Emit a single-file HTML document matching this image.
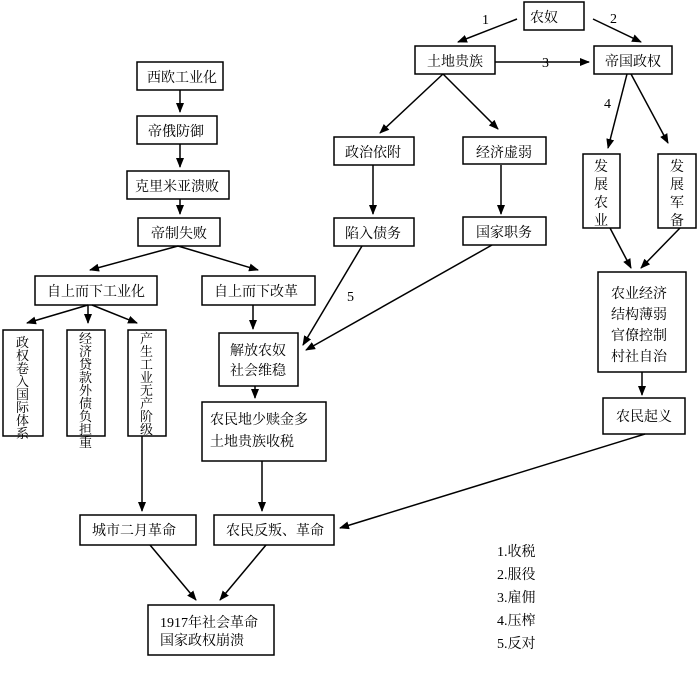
<!DOCTYPE html>
<html><head><meta charset="utf-8"><style>
body{margin:0;background:#fff}
svg text{font-family:"Liberation Serif","Noto Serif CJK SC","Noto Sans CJK SC",serif;font-size:14px;fill:#000}
svg text.v{font-size:13px}
</style></head><body>
<svg width="700" height="671" viewBox="0 0 700 671" xmlns="http://www.w3.org/2000/svg">
<defs><marker id="a" markerWidth="10" markerHeight="8" refX="9" refY="4" orient="auto" markerUnits="userSpaceOnUse"><path d="M0,0 L10,4 L0,8 Z" fill="#000"/></marker></defs>
<g fill="none" stroke="#000" stroke-width="1.5">
<rect x="524" y="2" width="60" height="28"/>
<rect x="415" y="46" width="80" height="28"/>
<rect x="594" y="46" width="78" height="28"/>
<rect x="334" y="137" width="80" height="28"/>
<rect x="463" y="137" width="83" height="27"/>
<rect x="334" y="218" width="80" height="28"/>
<rect x="463" y="217" width="83" height="28"/>
<rect x="583" y="154" width="37" height="74"/>
<rect x="658" y="154" width="38" height="74"/>
<rect x="598" y="272" width="88" height="100"/>
<rect x="603" y="398" width="82" height="36"/>
<rect x="137" y="62" width="86" height="28"/>
<rect x="137" y="116" width="80" height="28"/>
<rect x="127" y="171" width="102" height="28"/>
<rect x="138" y="218" width="82" height="28"/>
<rect x="35" y="276" width="122" height="29"/>
<rect x="202" y="276" width="113" height="29"/>
<rect x="3" y="330" width="40" height="106"/>
<rect x="67" y="330" width="38" height="106"/>
<rect x="128" y="330" width="38" height="106"/>
<rect x="219" y="333" width="79" height="53"/>
<rect x="202" y="402" width="124" height="59"/>
<rect x="80" y="515" width="116" height="30"/>
<rect x="214" y="515" width="120" height="30"/>
<rect x="148" y="605" width="126" height="50"/>
</g>
<g stroke="#000" stroke-width="1.5" marker-end="url(#a)">
<line x1="517" y1="19" x2="458" y2="42"/>
<line x1="593" y1="19" x2="641" y2="42"/>
<line x1="495" y1="62" x2="589" y2="62"/>
<line x1="443" y1="74" x2="380" y2="133"/>
<line x1="443" y1="74" x2="498" y2="129"/>
<line x1="627" y1="74" x2="608" y2="148"/>
<line x1="631" y1="74" x2="668" y2="143"/>
<line x1="501" y1="165" x2="501" y2="214"/>
<line x1="373" y1="165" x2="373" y2="214"/>
<line x1="610" y1="228" x2="631" y2="268"/>
<line x1="680" y1="228" x2="641" y2="268"/>
<line x1="642" y1="372" x2="642" y2="395"/>
<line x1="180" y1="90" x2="180" y2="112"/>
<line x1="180" y1="144" x2="180" y2="167"/>
<line x1="180" y1="199" x2="180" y2="214"/>
<line x1="178" y1="246" x2="90" y2="270"/>
<line x1="178" y1="246" x2="258" y2="270"/>
<line x1="88" y1="305" x2="27" y2="323"/>
<line x1="88" y1="305" x2="88" y2="323"/>
<line x1="92" y1="305" x2="137" y2="323"/>
<line x1="253" y1="305" x2="253" y2="329"/>
<line x1="362" y1="246" x2="303" y2="345"/>
<line x1="492" y1="245" x2="306" y2="350"/>
<line x1="255" y1="386" x2="255" y2="398"/>
<line x1="262" y1="461" x2="262" y2="511"/>
<line x1="142" y1="436" x2="142" y2="511"/>
<line x1="645" y1="434" x2="340" y2="528"/>
<line x1="150" y1="545" x2="196" y2="600"/>
<line x1="266" y1="545" x2="220" y2="600"/>
</g>
<text x="530" y="22">农奴</text>
<text x="427" y="66">土地贵族</text>
<text x="605" y="66">帝国政权</text>
<text x="345" y="157">政治依附</text>
<text x="476" y="157">经济虚弱</text>
<text x="345" y="238">陷入债务</text>
<text x="476" y="237">国家职务</text>
<text x="147" y="82">西欧工业化</text>
<text x="148" y="136">帝俄防御</text>
<text x="135" y="191">克里米亚溃败</text>
<text x="151" y="238">帝制失败</text>
<text x="47" y="296">自上而下工业化</text>
<text x="214" y="296">自上而下改革</text>
<text x="230" y="355">解放农奴</text>
<text x="230" y="375">社会维稳</text>
<text x="210" y="424">农民地少赎金多</text>
<text x="210" y="446">土地贵族收税</text>
<text x="611" y="298">农业经济</text>
<text x="611" y="319">结构薄弱</text>
<text x="611" y="340">官僚控制</text>
<text x="611" y="361">村社自治</text>
<text x="616" y="421">农民起义</text>
<text x="92" y="535">城市二月革命</text>
<text x="226" y="535">农民反叛、革命</text>
<text x="160" y="627">1917年社会革命</text>
<text x="160" y="645">国家政权崩溃</text>

<text x="594" y="171">发</text><text x="594" y="189">展</text><text x="594" y="207">农</text><text x="594" y="225">业</text>
<text x="670" y="171">发</text><text x="670" y="189">展</text><text x="670" y="207">军</text><text x="670" y="225">备</text>

<text class="v" x="16" y="347">政</text><text class="v" x="16" y="360">权</text><text class="v" x="16" y="373">卷</text><text class="v" x="16" y="386">入</text><text class="v" x="16" y="399">国</text><text class="v" x="16" y="412">际</text><text class="v" x="16" y="425">体</text><text class="v" x="16" y="438">系</text>

<text class="v" x="79" y="343">经</text><text class="v" x="79" y="356">济</text><text class="v" x="79" y="369">贷</text><text class="v" x="79" y="382">款</text><text class="v" x="79" y="395">外</text><text class="v" x="79" y="408">债</text><text class="v" x="79" y="421">负</text><text class="v" x="79" y="434">担</text><text class="v" x="79" y="447">重</text>

<text class="v" x="140" y="343">产</text><text class="v" x="140" y="356">生</text><text class="v" x="140" y="369">工</text><text class="v" x="140" y="382">业</text><text class="v" x="140" y="395">无</text><text class="v" x="140" y="408">产</text><text class="v" x="140" y="421">阶</text><text class="v" x="140" y="434">级</text>

<text x="482" y="24" font-size="12">1</text>
<text x="610" y="23" font-size="12">2</text>
<text x="542" y="67" font-size="12">3</text>
<text x="604" y="108" font-size="12">4</text>
<text x="347" y="301" font-size="12">5</text>
<text x="497" y="556" font-size="13">1.收税</text>
<text x="497" y="579" font-size="13">2.服役</text>
<text x="497" y="602" font-size="13">3.雇佣</text>
<text x="497" y="625" font-size="13">4.压榨</text>
<text x="497" y="648" font-size="13">5.反对</text>
</svg>
</body></html>
